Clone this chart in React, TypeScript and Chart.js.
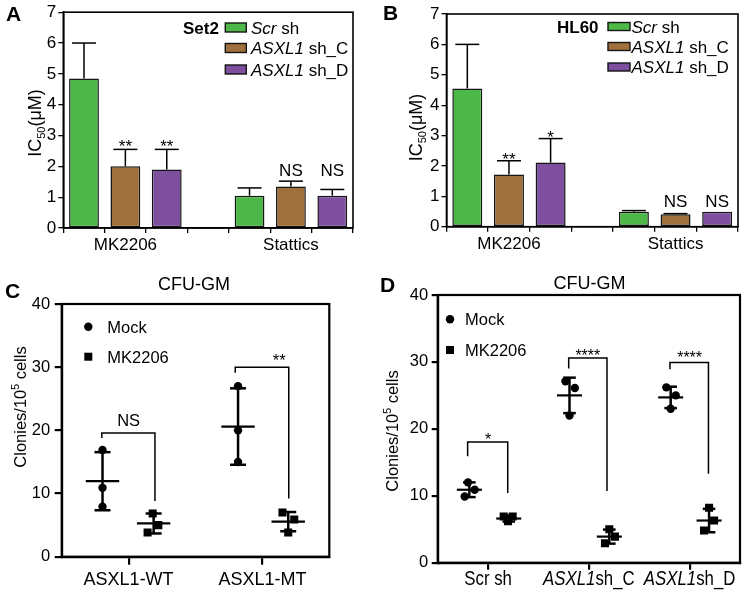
import React, { useEffect, useRef } from 'react';
import { Chart, registerables } from 'chart.js';

Chart.register(...registerables);

const FAM = '"Liberation Sans", Arial, Helvetica, sans-serif';
Chart.defaults.font.family = FAM;
Chart.defaults.color = '#000';

// ---------------- Panels A / B (bar charts) ----------------
const drugs = ['MK2206', 'Stattics'];
const shItalic = ['Scr', 'ASXL1', 'ASXL1'];
const shPlain = [' sh', ' sh_C', ' sh_D'];
const shColors = ['#4DB848', '#A0703C', '#7E4F9F'];
const icTickStep = 1;
const icMax = 7;

// Set2
const set2Scr = [4.85, 1.05];
const set2ShC = [2.0, 1.35];
const set2ShD = [1.9, 1.05];
const set2ScrTop = [6.0, 1.3];
const set2ShCTop = [2.55, 1.52];
const set2ShDTop = [2.55, 1.25];
const set2ScrSig = ['', ''];
const set2ShCSig = ['**', 'NS'];
const set2ShDSig = ['**', 'NS'];
const set2ScrSigY = [0, 0];
const set2ShCSigY = [2.79, 1.88];
const set2ShDSigY = [2.79, 1.88];

// HL60
const hl60Scr = [4.55, 0.49];
const hl60ShC = [1.72, 0.41];
const hl60ShD = [2.11, 0.49];
const hl60ScrTop = [6.0, 0.53];
const hl60ShCTop = [2.17, 0.43];
const hl60ShDTop = [2.9, 0.49];
const hl60ScrSig = ['', ''];
const hl60ShCSig = ['**', 'NS'];
const hl60ShDSig = ['*', 'NS'];
const hl60ScrSigY = [0, 0];
const hl60ShCSigY = [2.36, 0.86];
const hl60ShDSigY = [3.08, 0.86];

// ---------------- Panel C ----------------
const cGroups = ['ASXL1-WT', 'ASXL1-MT'];
const cMockX = [-0.195, -0.195, -0.195, 0.818, 0.818, 0.818];
const cMockY = [16.9, 10.9, 7.9, 27.0, 20.0, 15.0];
const cMkX = [0.18, 0.222, 0.142, 1.15, 1.238, 1.193];
const cMkY = [6.84, 5.0, 3.84, 7.0, 5.9, 3.84];
const cMockPos = [-0.195, 0.818];
const cMockMean = [11.95, 20.6];
const cMockSd = [4.6, 6.05];
const cMkPos = [0.187, 1.193];
const cMkMean = [5.26, 5.55];
const cMkSd = [1.58, 1.52];
const cSigLabel = ['NS', '**'];
const cSigX1 = [-0.2, 0.797];
const cSigX2 = [0.197, 1.197];
const cSigTop = [19.6, 30.0];
const cSigLeftEnd = [18.8, 29.1];
const cSigRightEnd = [8.8, 9.2];
const cSigTextX = [0, 1.125];
const cSigTextY = [21.7, 31.7];

// ---------------- Panel D ----------------
const dGroupItalic = ['', 'ASXL1', 'ASXL1'];
const dGroupPlain = ['Scr sh', 'sh_C', 'sh_D'];
const dGroups = dGroupItalic.map((a, i) => a + dGroupPlain[i]);
const dMockX = [-0.199, -0.133, -0.232, 0.768, 0.861, 0.808, 1.769, 1.862, 1.812];
const dMockY = [12.0, 10.9, 9.9, 27.1, 26.1, 22.0, 26.2, 25.0, 23.0];
const dMkX = [0.155, 0.244, 0.198, 1.203, 1.259, 1.16, 2.193, 2.243, 2.143];
const dMkY = [6.9, 6.9, 6.2, 5.0, 3.9, 2.9, 8.2, 6.3, 4.8];
const dMockPos = [-0.186, 0.808, 1.812];
const dMockMean = [10.9, 25.0, 24.7];
const dMockSd = [1.1, 2.65, 1.6];
const dMkPos = [0.205, 1.203, 2.193];
const dMkMean = [6.6, 3.9, 6.3];
const dMkSd = [0.45, 1.05, 1.75];
const dSigLabel = ['*', '****', '****'];
const dSigX1 = [-0.203, 0.8, 1.805];
const dSigX2 = [0.195, 1.18, 2.187];
const dSigTop = [18.05, 30.6, 29.9];
const dSigLeftEnd = [15.9, 29.0, 28.9];
const dSigRightEnd = [10.4, 10.7, 13.3];
const dSigTextX = [0, 0.99, 2.0];
const dSigTextY = [18.9, 31.5, 31.2];

const cfuMax = 40;
const cfuStep = 10;
const treatLabels = ['Mock', 'MK2206'];

// ---------------- helpers ----------------
type Seg = { t: string; size: number; italic?: boolean; bold?: boolean; dy?: number };
const segFont = (s: Seg) => `${s.italic ? 'italic ' : ''}${s.bold ? 'bold ' : ''}${s.size}px ${FAM}`;

function drawSegs(ctx: CanvasRenderingContext2D, segs: Seg[], x: number, y: number, align: 'left' | 'center' | 'right') {
  ctx.save();
  ctx.textAlign = 'left';
  ctx.textBaseline = 'alphabetic';
  ctx.fillStyle = '#000';
  let total = 0;
  const ws = segs.map((s) => {
    ctx.font = segFont(s);
    const w = ctx.measureText(s.t).width;
    total += w;
    return w;
  });
  let cx = align === 'left' ? x : align === 'center' ? x - total / 2 : x - total;
  segs.forEach((s, i) => {
    ctx.font = segFont(s);
    ctx.fillText(s.t, cx, y + (s.dy || 0));
    cx += ws[i];
  });
  ctx.restore();
}

function drawRotated(ctx: CanvasRenderingContext2D, segs: Seg[], cx: number, cy: number) {
  ctx.save();
  ctx.translate(cx, cy);
  ctx.rotate(-Math.PI / 2);
  drawSegs(ctx, segs, 0, segs[0].size * 0.36, 'center');
  ctx.restore();
}

function line(ctx: CanvasRenderingContext2D, x1: number, y1: number, x2: number, y2: number, w: number) {
  ctx.beginPath();
  ctx.lineWidth = w;
  ctx.strokeStyle = '#000';
  ctx.moveTo(x1, y1);
  ctx.lineTo(x2, y2);
  ctx.stroke();
}

function sigText(ctx: CanvasRenderingContext2D, t: string, x: number, yCenter: number, size: number) {
  if (!t) return;
  const k = /^\*+$/.test(t) ? 0.58 : 0.36;
  drawSegs(ctx, [{ t, size }], x, yCenter + k * size, 'center');
}

type Area = { l: number; r: number; t: number; b: number };
const Y_W = 40;
const X_H = 30;
const padFor = (a: Area) => ({ left: a.l - Y_W, right: 750 - a.r, top: a.t, bottom: 593 - a.b - X_H });

// ---------------- bar chart builder ----------------
function makeBar(spec: {
  values: number[][];
  tops: number[][];
  sigs: string[][];
  sigY: number[][];
  title: string;
  area: Area;
  letter: string;
  letterX: number;
  letterY: number;
  yTitleX: number;
  yTitleY: number;
  legTitleDx: number;
  legBoxDx: number;
  legBoxW: number;
  legBoxH: number;
  legTextGap: number;
  legRows: number[];
}) {
  const nSlots = drugs.length * 4 - 1;
  const slotLabels = Array.from({ length: nSlots }, (_, i) => (i % 4 === 1 ? drugs[(i - 1) / 4] : ''));
  const datasets = spec.values.map((vals, s) => ({
    label: shItalic[s] + shPlain[s],
    data: slotLabels.map((_, i) => (i % 4 === s ? vals[Math.floor(i / 4)] : null)),
    backgroundColor: shColors[s],
    borderColor: '#151515',
    borderWidth: 1.5,
    borderSkipped: false,
    grouped: false,
    barPercentage: 0.72,
    categoryPercentage: 1,
  }));
  const plugin = {
    id: 'barExtras' + spec.letter,
    afterDraw(chart: any) {
      const ctx: CanvasRenderingContext2D = chart.ctx;
      const ca = chart.chartArea;
      const ys = chart.scales.y;
      ctx.save();
      ctx.strokeStyle = '#000';
      ctx.lineWidth = 1.6;
      ctx.strokeRect(ca.left, ca.top, ca.right - ca.left, ca.bottom - ca.top);
      spec.tops.forEach((tops, s) => {
        const meta = chart.getDatasetMeta(s);
        tops.forEach((t, d) => {
          const el = meta.data[d * 4 + s];
          if (!el) return;
          const x = el.x;
          const yb = el.y;
          const yt = ys.getPixelForValue(t);
          if (yt < yb - 0.6) {
            line(ctx, x, yb, x, yt, 1.5);
            line(ctx, x - 12, yt, x + 12, yt, 1.5);
          }
          const sg = spec.sigs[s][d];
          if (sg) sigText(ctx, sg, x, ys.getPixelForValue(spec.sigY[s][d]), 17);
        });
      });
      // legend
      const r0 = ca.top + spec.legRows[0];
      drawSegs(ctx, [{ t: spec.title, size: 17, bold: true }], ca.left + spec.legTitleDx, r0 + 17 * 0.36, 'left');
      spec.values.forEach((_, s) => {
        const ry = ca.top + spec.legRows[s];
        const bx = ca.left + spec.legBoxDx;
        ctx.fillStyle = shColors[s];
        ctx.fillRect(bx, ry - spec.legBoxH / 2, spec.legBoxW, spec.legBoxH);
        ctx.lineWidth = 1.4;
        ctx.strokeStyle = '#151515';
        ctx.strokeRect(bx, ry - spec.legBoxH / 2, spec.legBoxW, spec.legBoxH);
        drawSegs(
          ctx,
          [
            { t: shItalic[s], size: 17, italic: true },
            { t: shPlain[s], size: 17 },
          ],
          bx + spec.legBoxW + spec.legTextGap,
          ry + 17 * 0.36,
          'left'
        );
      });
      // y title
      drawRotated(
        ctx,
        [
          { t: 'IC', size: 18 },
          { t: '50', size: 11, dy: 4 },
          { t: '(μM)', size: 18 },
        ],
        spec.yTitleX,
        spec.yTitleY
      );
      // panel letter
      drawSegs(ctx, [{ t: spec.letter, size: 21, bold: true }], spec.letterX, spec.letterY, 'left');
      ctx.restore();
    },
  };
  return {
    type: 'bar',
    data: { labels: slotLabels, datasets },
    options: {
      animation: false,
      responsive: false,
      devicePixelRatio: 1,
      layout: { padding: padFor(spec.area) },
      plugins: { legend: { display: false }, tooltip: { enabled: false }, title: { display: false } },
      scales: {
        x: {
          type: 'category',
          offset: true,
          grid: { offset: true, drawOnChartArea: false, drawTicks: true, tickLength: 5, color: '#000', lineWidth: 1.3 },
          border: { display: true, color: '#000', width: 1.6 },
          ticks: { autoSkip: false, maxRotation: 0, minRotation: 0, font: { size: 17 }, color: '#000', padding: 2 },
          afterFit: (s: any) => {
            s.height = X_H;
          },
        },
        y: {
          min: 0,
          max: icMax,
          ticks: { stepSize: icTickStep, font: { size: 17 }, color: '#000', padding: 2 },
          grid: { drawOnChartArea: false, tickLength: 5, color: '#000', lineWidth: 1.3 },
          border: { display: true, color: '#000', width: 1.6 },
          afterFit: (s: any) => {
            s.width = Y_W;
          },
        },
      },
    },
    plugins: [plugin],
  };
}

// ---------------- scatter builder ----------------
function makeScatter(spec: {
  groups: string[];
  italicLabels: boolean;
  mockX: number[];
  mockY: number[];
  mkX: number[];
  mkY: number[];
  mockPos: number[];
  mockMean: number[];
  mockSd: number[];
  mkPos: number[];
  mkMean: number[];
  mkSd: number[];
  sigLabel: string[];
  sigX1: number[];
  sigX2: number[];
  sigTop: number[];
  sigLeftEnd: number[];
  sigRightEnd: number[];
  sigTextX: number[];
  sigTextY: number[];
  sigSize: number;
  area: Area;
  meanHw: number;
  capHw: number;
  legMarkDx: number;
  legRows: number[];
  legTextGap: number;
  letter: string;
  letterX: number;
  letterY: number;
  titleX: number;
  titleY: number;
  yTitleX: number;
  yTitleY: number;
  yTickPad: number;
  yTickLen: number;
  xTickLen: number;
  xTickPad: number;
}) {
  const plugin = {
    id: 'scatterExtras' + spec.letter,
    afterDraw(chart: any) {
      const ctx: CanvasRenderingContext2D = chart.ctx;
      const ca = chart.chartArea;
      const xs = chart.scales.x;
      const ys = chart.scales.y;
      ctx.save();
      ctx.strokeStyle = '#000';
      ctx.lineWidth = 2.2;
      ctx.strokeRect(ca.left, ca.top, ca.right - ca.left, ca.bottom - ca.top);
      const ms = (pos: number[], mean: number[], sd: number[]) => {
        pos.forEach((p, g) => {
          const x = xs.getPixelForValue(p);
          const ym = ys.getPixelForValue(mean[g]);
          const y1 = ys.getPixelForValue(mean[g] + sd[g]);
          const y2 = ys.getPixelForValue(mean[g] - sd[g]);
          line(ctx, x - spec.meanHw, ym, x + spec.meanHw, ym, 2.2);
          line(ctx, x, y1, x, y2, 2.5);
          line(ctx, x - spec.capHw, y1, x + spec.capHw, y1, 2.5);
          line(ctx, x - spec.capHw, y2, x + spec.capHw, y2, 2.5);
        });
      };
      ms(spec.mockPos, spec.mockMean, spec.mockSd);
      ms(spec.mkPos, spec.mkMean, spec.mkSd);
      // brackets
      spec.sigLabel.forEach((lab, i) => {
        const x1 = xs.getPixelForValue(spec.sigX1[i]);
        const x2 = xs.getPixelForValue(spec.sigX2[i]);
        const yt = ys.getPixelForValue(spec.sigTop[i]);
        ctx.beginPath();
        ctx.lineWidth = 1.5;
        ctx.strokeStyle = '#000';
        ctx.moveTo(x1, ys.getPixelForValue(spec.sigLeftEnd[i]));
        ctx.lineTo(x1, yt);
        ctx.lineTo(x2, yt);
        ctx.lineTo(x2, ys.getPixelForValue(spec.sigRightEnd[i]));
        ctx.stroke();
        sigText(ctx, lab, xs.getPixelForValue(spec.sigTextX[i]), ys.getPixelForValue(spec.sigTextY[i]), spec.sigSize);
      });
      // legend
      treatLabels.forEach((lab, i) => {
        const mx = ca.left + spec.legMarkDx;
        const my = ca.top + spec.legRows[i];
        ctx.fillStyle = '#000';
        if (i === 0) {
          ctx.beginPath();
          ctx.arc(mx, my, 4.2, 0, Math.PI * 2);
          ctx.fill();
        } else {
          ctx.fillRect(mx - 4, my - 4, 8, 8);
        }
        drawSegs(ctx, [{ t: lab, size: 16.5 }], mx + spec.legTextGap, my + 16.5 * 0.36, 'left');
      });
      // italic x labels (D)
      if (spec.italicLabels) {
        spec.groups.forEach((_, i) => {
          const x = xs.getPixelForValue(i);
          ctx.save();
          ctx.translate(x, ca.bottom + 22.3);
          ctx.scale(0.84, 1);
          const segs: Seg[] = [];
          if (dGroupItalic[i]) segs.push({ t: dGroupItalic[i], size: 20, italic: true });
          segs.push({ t: dGroupPlain[i], size: 20 });
          drawSegs(ctx, segs, 0, 0, 'center');
          ctx.restore();
        });
      }
      // y title
      drawRotated(
        ctx,
        [
          { t: 'Clonies/10', size: 16.5 },
          { t: '5', size: 10.5, dy: -7 },
          { t: ' cells', size: 16.5 },
        ],
        spec.yTitleX,
        spec.yTitleY
      );
      drawSegs(ctx, [{ t: 'CFU-GM', size: 18 }], spec.titleX, spec.titleY, 'center');
      drawSegs(ctx, [{ t: spec.letter, size: 21, bold: true }], spec.letterX, spec.letterY, 'left');
      ctx.restore();
    },
  };
  return {
    type: 'scatter',
    data: {
      datasets: [
        {
          label: treatLabels[0],
          data: spec.mockX.map((x, i) => ({ x, y: spec.mockY[i] })),
          pointStyle: 'circle',
          pointRadius: 4.2,
          backgroundColor: '#000',
          borderColor: '#000',
          borderWidth: 0,
        },
        {
          label: treatLabels[1],
          data: spec.mkX.map((x, i) => ({ x, y: spec.mkY[i] })),
          pointStyle: 'rect',
          pointRadius: 5.7,
          backgroundColor: '#000',
          borderColor: '#000',
          borderWidth: 0,
        },
      ],
    },
    options: {
      animation: false,
      responsive: false,
      devicePixelRatio: 1,
      layout: { padding: padFor(spec.area) },
      plugins: { legend: { display: false }, tooltip: { enabled: false }, title: { display: false } },
      scales: {
        x: {
          type: 'linear',
          min: -0.5,
          max: spec.groups.length - 0.5,
          afterBuildTicks: (s: any) => {
            s.ticks = spec.groups.map((_, i) => ({ value: i }));
          },
          ticks: {
            autoSkip: false,
            maxRotation: 0,
            minRotation: 0,
            font: { size: 18 },
            color: '#000',
            padding: spec.xTickPad,
            callback: (_v: any, i: number) => (spec.italicLabels ? '' : spec.groups[i]),
          },
          grid: { drawOnChartArea: false, tickLength: spec.xTickLen, color: '#000', lineWidth: 2.2 },
          border: { display: true, color: '#000', width: 2.2 },
          afterFit: (s: any) => {
            s.height = X_H;
          },
        },
        y: {
          min: 0,
          max: cfuMax,
          ticks: { stepSize: cfuStep, font: { size: 16.5 }, color: '#000', padding: spec.yTickPad },
          grid: { drawOnChartArea: false, tickLength: spec.yTickLen, color: '#000', lineWidth: 2.2 },
          border: { display: true, color: '#000', width: 2.2 },
          afterFit: (s: any) => {
            s.width = Y_W;
          },
        },
      },
    },
    plugins: [plugin],
  };
}

const makeA = () =>
  makeBar({
    values: [set2Scr, set2ShC, set2ShD],
    tops: [set2ScrTop, set2ShCTop, set2ShDTop],
    sigs: [set2ScrSig, set2ShCSig, set2ShDSig],
    sigY: [set2ScrSigY, set2ShCSigY, set2ShDSigY],
    title: 'Set2',
    area: { l: 63.3, r: 353, t: 11.7, b: 228 },
    letter: 'A',
    letterX: 6,
    letterY: 21,
    yTitleX: 35,
    yTitleY: 123,
    legTitleDx: 119.7,
    legBoxDx: 162,
    legBoxW: 21,
    legBoxH: 9,
    legTextGap: 4.7,
    legRows: [15.3, 35.8, 57.3],
  });

const makeB = () =>
  makeBar({
    values: [hl60Scr, hl60ShC, hl60ShD],
    tops: [hl60ScrTop, hl60ShCTop, hl60ShDTop],
    sigs: [hl60ScrSig, hl60ShCSig, hl60ShDSig],
    sigY: [hl60ScrSigY, hl60ShCSigY, hl60ShDSigY],
    title: 'HL60',
    area: { l: 446.5, r: 738, t: 14, b: 226.7 },
    letter: 'B',
    letterX: 383,
    letterY: 20,
    yTitleX: 416,
    yTitleY: 127.5,
    legTitleDx: 110.5,
    legBoxDx: 161.5,
    legBoxW: 22,
    legBoxH: 8,
    legTextGap: 1.5,
    legRows: [12.5, 32.5, 53],
  });

const makeC = () =>
  makeScatter({
    groups: cGroups,
    italicLabels: false,
    mockX: cMockX,
    mockY: cMockY,
    mkX: cMkX,
    mkY: cMkY,
    mockPos: cMockPos,
    mockMean: cMockMean,
    mockSd: cMockSd,
    mkPos: cMkPos,
    mkMean: cMkMean,
    mkSd: cMkSd,
    sigLabel: cSigLabel,
    sigX1: cSigX1,
    sigX2: cSigX2,
    sigTop: cSigTop,
    sigLeftEnd: cSigLeftEnd,
    sigRightEnd: cSigRightEnd,
    sigTextX: cSigTextX,
    sigTextY: cSigTextY,
    sigSize: 16.5,
    area: { l: 61.7, r: 329.3, t: 304, b: 556.7 },
    meanHw: 16.7,
    capHw: 8,
    legMarkDx: 26.6,
    legRows: [22.7, 52.7],
    legTextGap: 19,
    letter: 'C',
    letterX: 5,
    letterY: 298,
    titleX: 194,
    titleY: 290,
    yTitleX: 20,
    yTitleY: 407,
    yTickPad: 4.5,
    yTickLen: 7,
    xTickLen: 8,
    xTickPad: 5,
  });

const makeD = () =>
  makeScatter({
    groups: dGroups,
    italicLabels: true,
    mockX: dMockX,
    mockY: dMockY,
    mkX: dMkX,
    mkY: dMkY,
    mockPos: dMockPos,
    mockMean: dMockMean,
    mockSd: dMockSd,
    mkPos: dMkPos,
    mkMean: dMkMean,
    mkSd: dMkSd,
    sigLabel: dSigLabel,
    sigX1: dSigX1,
    sigX2: dSigX2,
    sigTop: dSigTop,
    sigLeftEnd: dSigLeftEnd,
    sigRightEnd: dSigRightEnd,
    sigTextX: dSigTextX,
    sigTextY: dSigTextY,
    sigSize: 16,
    area: { l: 437.7, r: 740, t: 295, b: 562.7 },
    meanHw: 12.5,
    capHw: 6.3,
    legMarkDx: 12.3,
    legRows: [24.3, 55],
    legTextGap: 15,
    letter: 'D',
    letterX: 380,
    letterY: 292,
    titleX: 589.5,
    titleY: 289,
    yTitleX: 392,
    yTitleY: 431,
    yTickPad: 3.5,
    yTickLen: 6,
    xTickLen: 7,
    xTickPad: 3,
  });

function ChartCanvas({ make }: { make: () => any }) {
  const ref = useRef<HTMLCanvasElement>(null);
  useEffect(() => {
    const chart = new Chart(ref.current as HTMLCanvasElement, make());
    return () => chart.destroy();
  }, []);
  return (
    <canvas
      ref={ref}
      width={750}
      height={593}
      style={{ position: 'absolute', left: 0, top: 0, width: 750, height: 593 }}
    />
  );
}

export default function App() {
  return (
    <div style={{ position: 'absolute', left: 0, top: 0, width: 750, height: 593, background: '#fff', overflow: 'hidden' }}>
      <ChartCanvas make={makeA} />
      <ChartCanvas make={makeB} />
      <ChartCanvas make={makeC} />
      <ChartCanvas make={makeD} />
    </div>
  );
}
